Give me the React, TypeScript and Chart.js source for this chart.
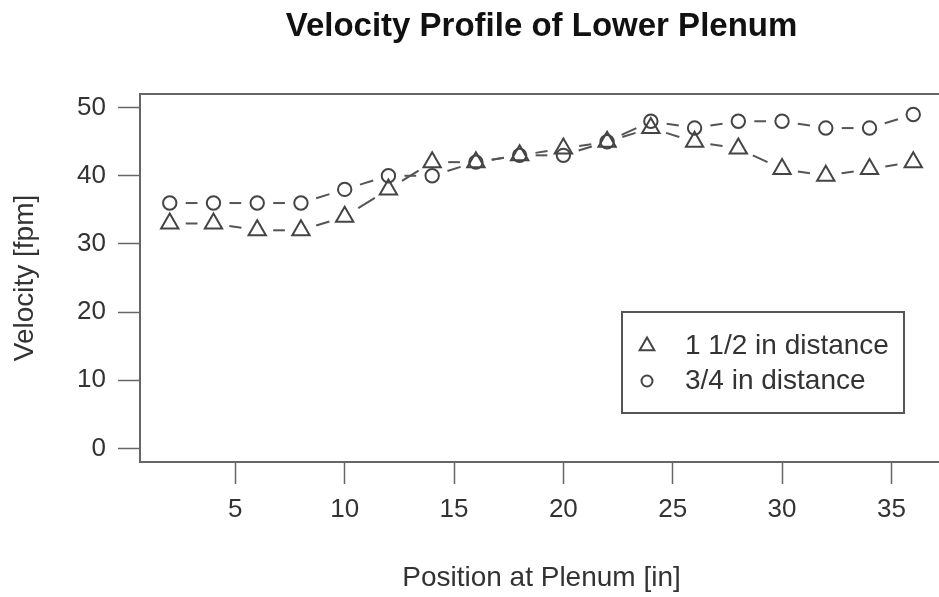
import { useEffect, useRef } from 'react';
import { Chart, registerables } from 'chart.js';

Chart.register(...registerables);

const positions = [2, 4, 6, 8, 10, 12, 14, 16, 18, 20, 22, 24, 26, 28, 30, 32, 34, 36];
const velocityOneHalf = [33, 33, 32, 32, 34, 38, 42, 42, 43, 44, 45, 47, 45, 44, 41, 40, 41, 42];
const velocityThreeQuarter = [36, 36, 36, 36, 38, 40, 40, 42, 43, 43, 45, 48, 47, 48, 48, 47, 47, 49];
const seriesLabels = ['1 1/2 in distance', '3/4 in distance'];
const xTickValues = [5, 10, 15, 20, 25, 30, 35];
const yTickValues = [0, 10, 20, 30, 40, 50];

const FONT = '"Liberation Sans", Arial, Helvetica, sans-serif';
const CANVAS_W = 955;
const CANVAS_H = 597;

const gappedLines = {
  id: 'gappedLines',
  beforeDatasetsDraw(chart: any) {
    const ctx = chart.ctx;
    const gap = 16;
    ctx.save();
    ctx.strokeStyle = '#555';
    ctx.lineWidth = 2;
    chart.data.datasets.forEach((_: any, i: number) => {
      const meta = chart.getDatasetMeta(i);
      const pts = meta.data;
      for (let k = 0; k < pts.length - 1; k++) {
        const a = pts[k];
        const b = pts[k + 1];
        const dx = b.x - a.x;
        const dy = b.y - a.y;
        const len = Math.hypot(dx, dy);
        if (len <= gap * 2 + 1) continue;
        const ux = dx / len;
        const uy = dy / len;
        ctx.beginPath();
        ctx.moveTo(a.x + ux * gap, a.y + uy * gap);
        ctx.lineTo(b.x - ux * gap, b.y - uy * gap);
        ctx.stroke();
      }
    });
    ctx.restore();
  },
};

const plotBox = {
  id: 'plotBox',
  afterDraw(chart: any) {
    const { ctx, chartArea } = chart;
    ctx.save();
    ctx.strokeStyle = '#666';
    ctx.lineWidth = 2;
    ctx.strokeRect(chartArea.left, chartArea.top, chartArea.right - chartArea.left, chartArea.bottom - chartArea.top);

    // legend inside plot region
    const lx = chartArea.left + 482;
    const ly = chartArea.top + 218;
    const lw = 282;
    const lh = 101;
    ctx.strokeStyle = '#555';
    ctx.strokeRect(lx, ly, lw, lh);
    ctx.font = `28px ${FONT}`;
    ctx.textBaseline = 'middle';
    ctx.textAlign = 'left';
    chart.data.datasets.forEach((ds: any, i: number) => {
      const cy = ly + 34 + i * 35;
      const sx = lx + 25;
      ctx.strokeStyle = '#444';
      ctx.lineWidth = 2;
      ctx.beginPath();
      if (ds.pointStyle === 'triangle') {
        const r = 8.5;
        for (let j = 0; j < 3; j++) {
          const ang = (j * 2 * Math.PI) / 3;
          const px = sx + Math.sin(ang) * r;
          const py = cy - Math.cos(ang) * r;
          if (j === 0) ctx.moveTo(px, py);
          else ctx.lineTo(px, py);
        }
        ctx.closePath();
      } else {
        ctx.arc(sx, cy, 5.5, 0, Math.PI * 2);
      }
      ctx.stroke();
      ctx.fillStyle = '#333';
      ctx.fillText(ds.label, lx + 63, cy);
    });
    ctx.restore();
  },
};

export default function App() {
  const ref = useRef<HTMLCanvasElement | null>(null);

  useEffect(() => {
    if (!ref.current) return;
    const mk = (vals: number[]) => positions.map((x, i) => ({ x, y: vals[i] }));
    const chart = new Chart(ref.current, {
      type: 'line',
      data: {
        datasets: [
          {
            label: seriesLabels[0],
            data: mk(velocityOneHalf),
            showLine: false,
            pointStyle: 'triangle',
            pointRadius: 10,
            pointBorderWidth: 2,
            pointBorderColor: '#444',
            pointBackgroundColor: 'rgba(0,0,0,0)',
            borderColor: '#444',
          },
          {
            label: seriesLabels[1],
            data: mk(velocityThreeQuarter),
            showLine: false,
            pointStyle: 'circle',
            pointRadius: 6.7,
            pointBorderWidth: 2,
            pointBorderColor: '#444',
            pointBackgroundColor: 'rgba(0,0,0,0)',
            borderColor: '#444',
          },
        ],
      },
      options: {
        animation: false,
        responsive: false,
        devicePixelRatio: 1,
        layout: { padding: { left: 0, right: CANVAS_W - 949, top: 0, bottom: 0 } },
        plugins: {
          legend: { display: false },
          tooltip: { enabled: false },
          title: {
            display: true,
            text: 'Velocity Profile of Lower Plenum',
            fullSize: false,
            color: '#111',
            font: { family: FONT, size: 33, weight: 'bold', lineHeight: 1.2 },
            padding: { top: 7, bottom: 47.4 },
          },
        },
        scales: {
          x: {
            type: 'linear',
            min: 0.64,
            max: 37.36,
            afterFit: (s: any) => {
              s.height = CANVAS_H - 462;
            },
            afterBuildTicks: (s: any) => {
              s.ticks = xTickValues.map((v) => ({ value: v }));
            },
            ticks: {
              autoSkip: false,
              maxRotation: 0,
              color: '#333',
              padding: 10,
              font: { family: FONT, size: 26 },
              callback: (v: any) => String(v),
            },
            grid: {
              display: true,
              drawOnChartArea: false,
              drawTicks: true,
              tickLength: 22,
              tickColor: '#666',
              tickWidth: 1.5,
            },
            border: { display: false },
            title: {
              display: true,
              text: 'Position at Plenum [in]',
              color: '#333',
              font: { family: FONT, size: 28, lineHeight: 1.2 },
              padding: { top: 0, bottom: 2 },
            },
          },
          y: {
            type: 'linear',
            min: -2,
            max: 52,
            afterFit: (s: any) => {
              s.width = 140;
            },
            afterBuildTicks: (s: any) => {
              s.ticks = yTickValues.map((v) => ({ value: v }));
            },
            ticks: {
              autoSkip: false,
              color: '#333',
              padding: 12,
              font: { family: FONT, size: 26 },
              callback: (v: any) => String(v),
            },
            grid: {
              display: true,
              drawOnChartArea: false,
              drawTicks: true,
              tickLength: 22,
              tickColor: '#666',
              tickWidth: 1.5,
            },
            border: { display: false },
            title: {
              display: true,
              text: 'Velocity [fpm]',
              color: '#333',
              font: { family: FONT, size: 28, lineHeight: 1.2 },
              padding: { top: 8, bottom: 0 },
            },
          },
        },
      },
      plugins: [gappedLines, plotBox],
    } as any);
    return () => chart.destroy();
  }, []);

  return (
    <div
      style={{
        position: 'fixed',
        left: 0,
        top: 0,
        width: 939,
        height: 597,
        overflow: 'hidden',
        background: '#fff',
      }}
    >
      <canvas
        ref={ref}
        width={CANVAS_W}
        height={CANVAS_H}
        style={{ display: 'block', width: CANVAS_W, height: CANVAS_H }}
      />
    </div>
  );
}
